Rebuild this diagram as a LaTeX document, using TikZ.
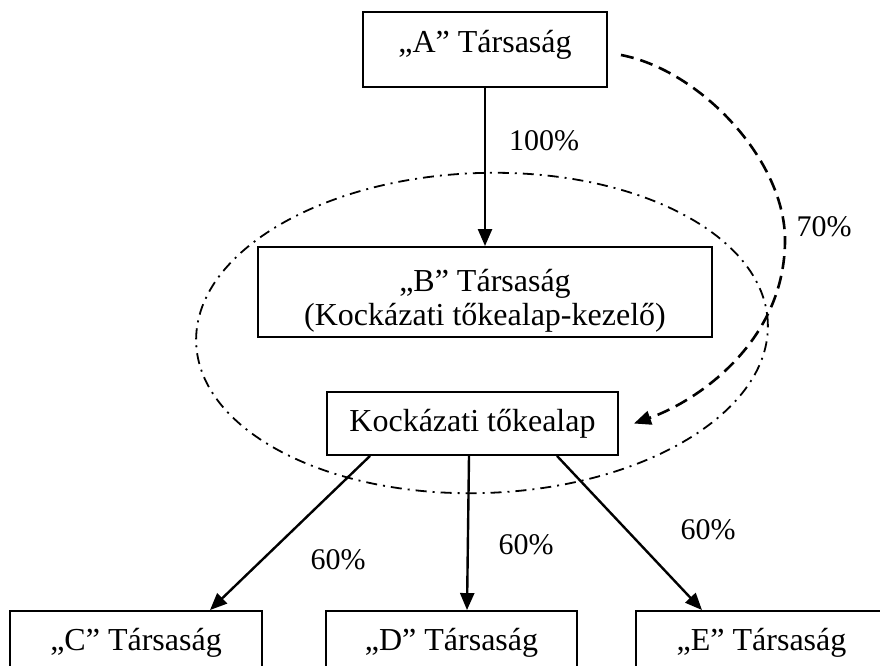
\documentclass[tikz,border=0pt]{standalone}
\usepackage{fontspec}
\setmainfont{Liberation Serif}
\usetikzlibrary{arrows.meta,calc,shapes.geometric}
\begin{document}
\begin{tikzpicture}[x=1pt,y=-1pt,
  box/.style={draw, line width=1.9pt, inner sep=0pt, font=\fontsize{32}{34}\selectfont, text height=22pt, text depth=7pt},
  pct/.style={font=\fontsize{30}{32}\selectfont, inner sep=0pt},
  conn/.style={line width=2.4pt, -{Triangle[length=17pt,width=14pt]}},
  dashconn/.style={line width=2.6pt, dash pattern=on 13pt off 7pt, -{Triangle[length=17pt,width=14pt]}},
  group/.style={ellipse, draw, line width=1.8pt, dash pattern=on 11pt off 6pt on 2pt off 6pt, inner sep=0pt}]
\useasboundingbox (0,0) rectangle (880,666);
\fill[white] (0,0) rectangle (880,666);

\node[group, minimum width=572pt, minimum height=320pt, rotate=2] (grp) at (482,333) {};

\node[box, minimum width=244pt, minimum height=75pt, text depth=15pt] (A) at (485,49.5) {„A” Társaság};
\node[box, minimum width=454pt, minimum height=90pt, align=center, text height=66pt, text depth=0pt] (B) at (485,292) {„B” Társaság\\(Kockázati tőkealap-kezelő)};
\node[box, minimum width=291pt, minimum height=63pt] (K) at (472.5,423.5) {Kockázati tőkealap};
\node[box, minimum width=252pt, minimum height=63pt] (C) at (136,642.5) {„C” Társaság};
\node[box, minimum width=251pt, minimum height=63pt] (D) at (451.5,642.5) {„D” Társaság};
\node[box, minimum width=251pt, minimum height=63pt] (E) at (761.5,642.5) {„E” Társaság};

\draw[conn] (A.south) -- (B.north);
\draw[conn] ($(K.south)+(-102.5,0)$) -- ($(C.north)+(74,0)$);
\draw[conn] ($(K.south)+(-3.5,0)$) -- ($(D.north)+(15.5,0)$);
\draw[conn] ($(K.south)+(84.5,0)$) -- ($(E.north)+(-59.5,0)$);
\draw[dashconn] ($(A.east)+(13,5.5)$) .. controls (700,70) and (785,160) .. (785,240)
  .. controls (785,340) and (700,400) .. ($(K.east)+(15,0)$);

\node[pct] (p100) at (544,141) {100\%};
\node[pct] (p70) at (824,227) {70\%};
\node[pct] (p60c) at (338,560) {60\%};
\node[pct] (p60d) at (526,545) {60\%};
\node[pct] (p60e) at (708,530) {60\%};
\end{tikzpicture}
\end{document}
